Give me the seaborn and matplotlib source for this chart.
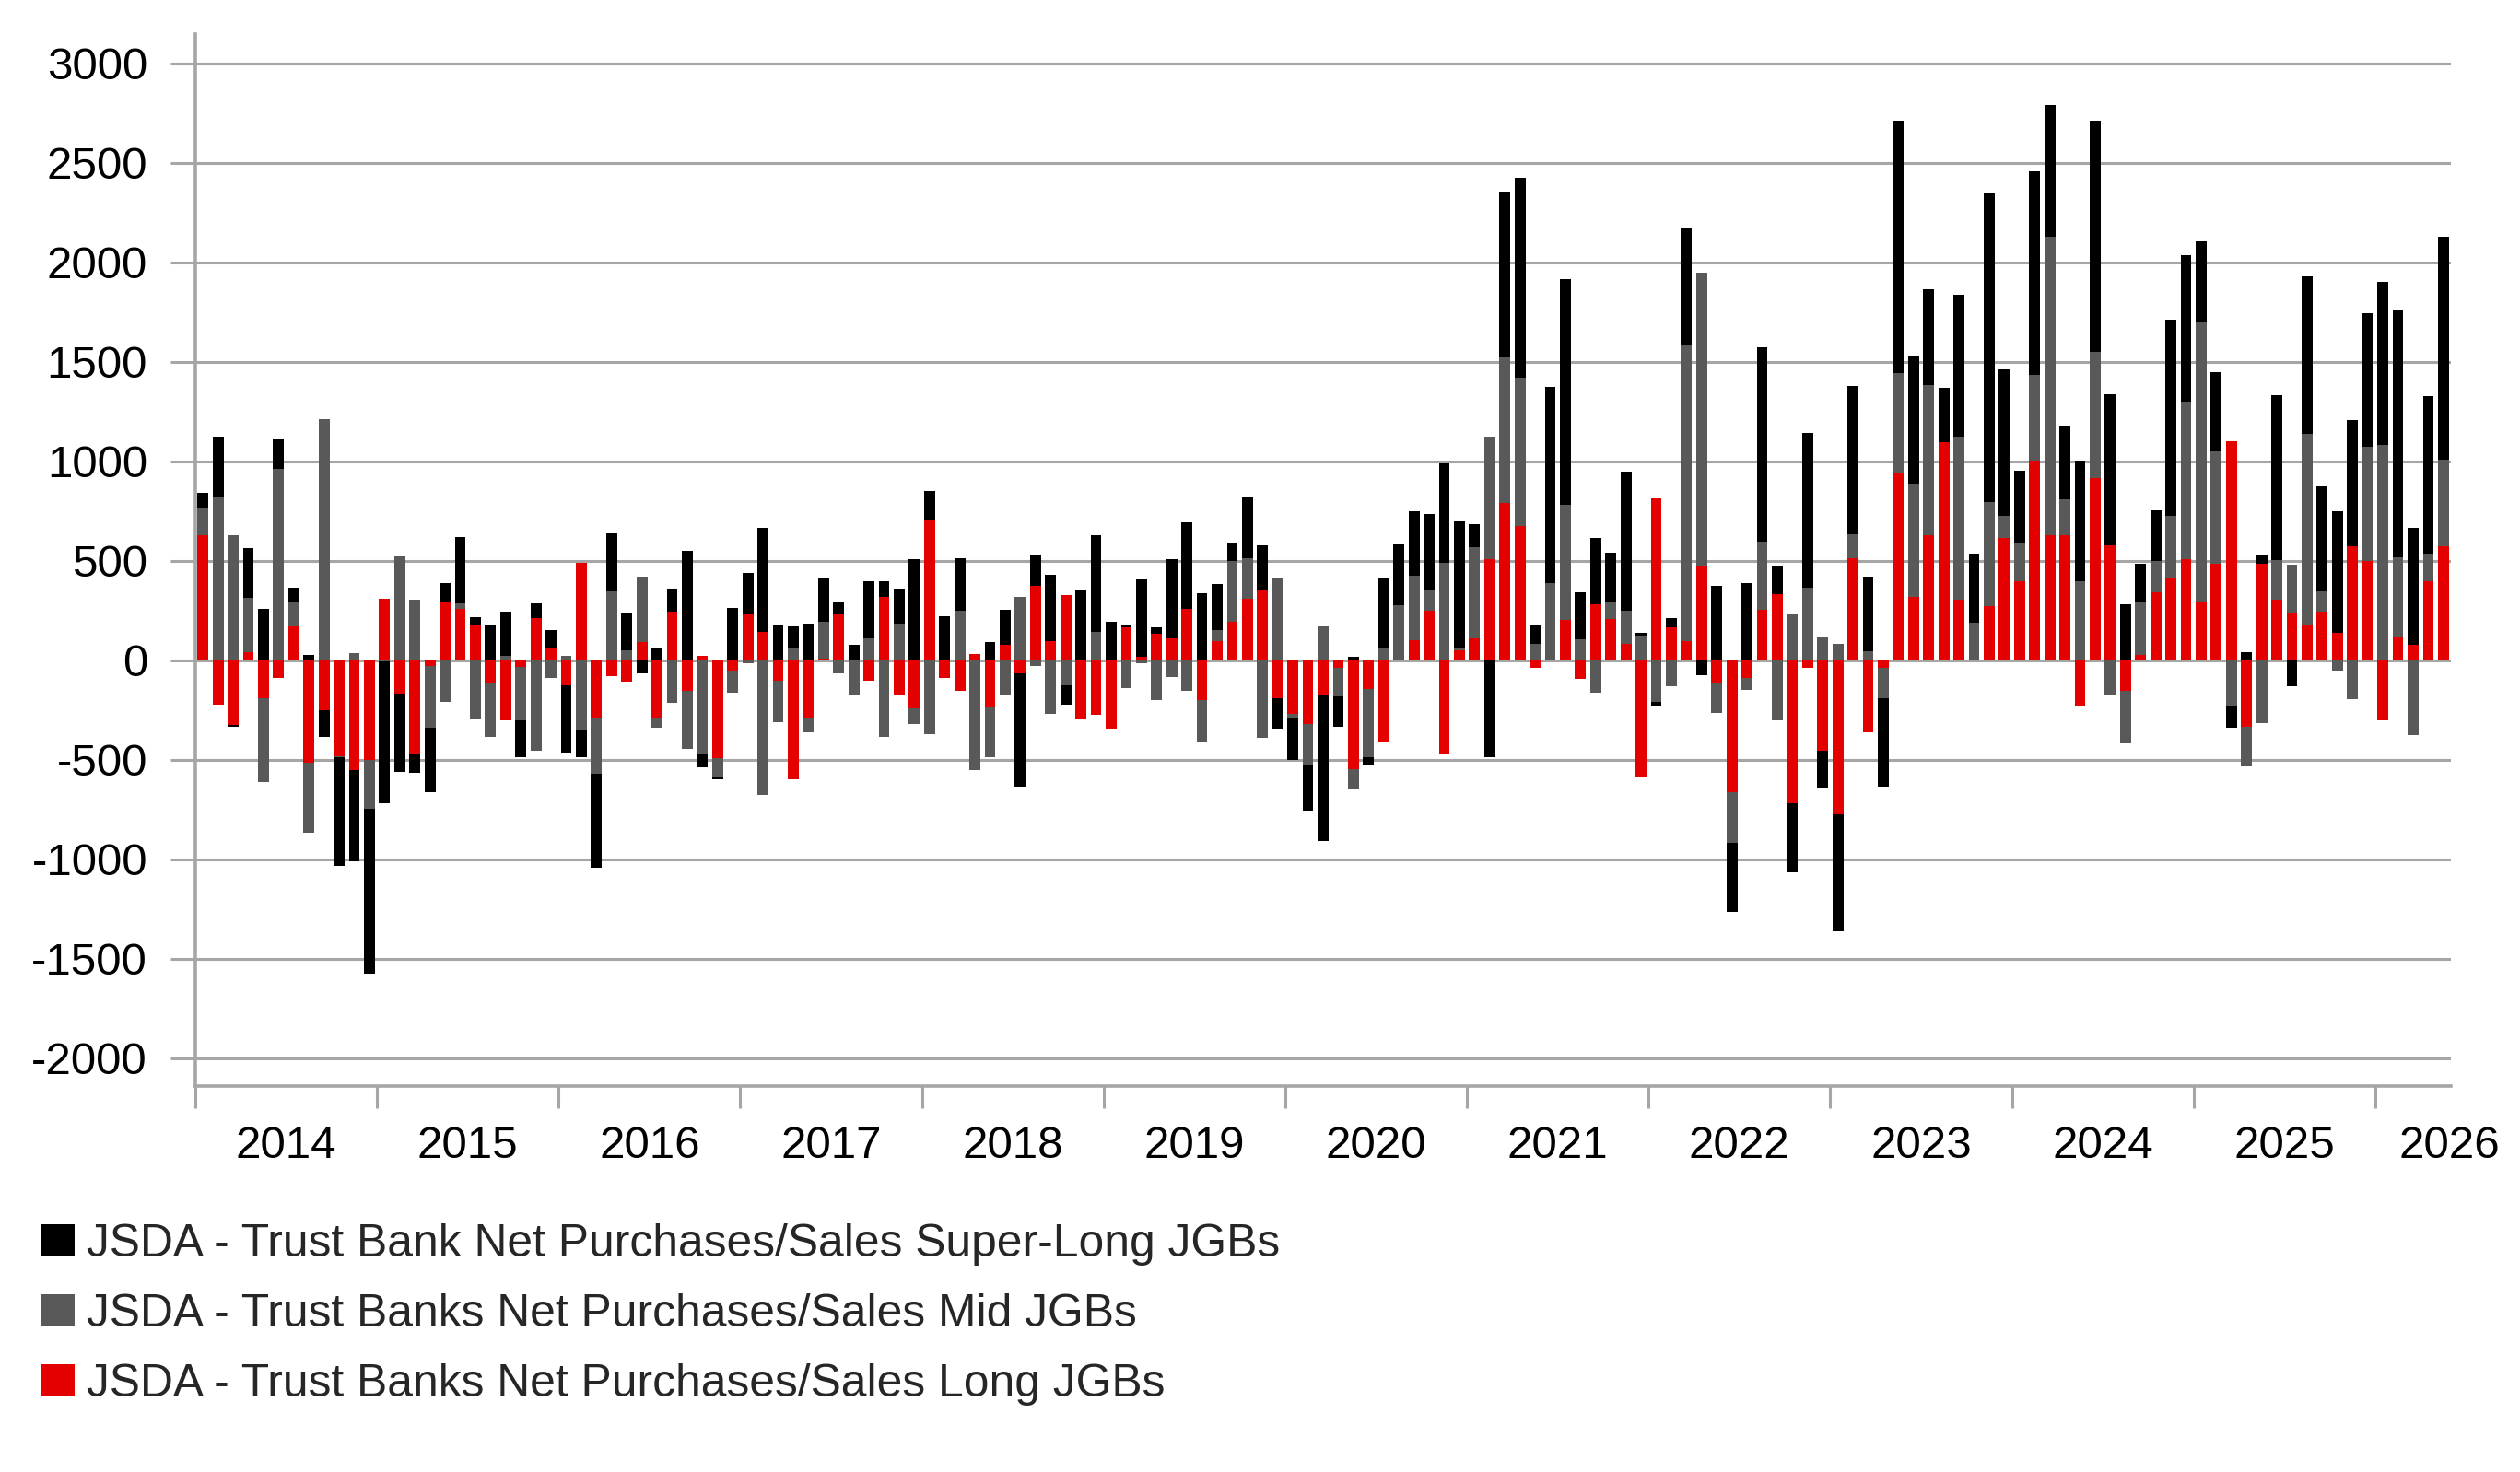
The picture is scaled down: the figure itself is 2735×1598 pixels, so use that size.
import numpy as np
import seaborn as sns
import matplotlib
matplotlib.use("Agg")
import matplotlib.pyplot as plt
from matplotlib.patches import Patch

# =========================
# DATA (monthly, Jan 2014 - May 2026, JPY bn)
# =========================

years = list(range(2014, 2027))

long_jgb = [
    630, -223, -323, 42, -190, -88, 170, -515, -253, -484, -553, -503,   # 2014
    307, -169, -468, -31, 296, 257, 173, -111, -303, -35, 211, 58,       # 2015
    -125, 489, -286, -78, -108, 91, -293, 243, -152, 24, -492, -50,      # 2016
    229, 142, -104, -600, -293, 10, 229, 5, -104, 317, -179, -243,       # 2017
    704, -91, -152, 30, -233, 78, -67, 374, 98, 330, -297, -276,         # 2018
    -344, 168, 17, 135, 111, 256, -202, 94, 195, 310, 357, -192,         # 2019
    -270, -320, -179, -40, -549, -145, -411, 5, 101, 249, -468, 51,      # 2020
    108, 509, 789, 674, -37, 5, 202, -94, 280, 209, 81, -586,            # 2021
    812, 168, 94, 475, -111, -661, -91, 253, 334, -718, -40, -455,       # 2022
    -772, 512, -364, -40, 940, 320, 627, 1095, 303, 5, 270, 613,         # 2023
    398, 1004, 627, 627, -226, 917, 580, -155, 27, 340, 418, 509,        # 2024
    297, 485, 1102, -334, 485, 303, 233, 179, 246, 138, 573, 499,        # 2025
    -304, 119, 77, 396, 573,                                             # 2026
]

mid_jgb = [
    135, 822, 630, 273, -420, 960, 127, -353, 1210, -5, 38, -242,
    -5, 522, 303, -307, -211, 27, -296, -276, 23, -265, -453, -88,
    20, -354, -283, 347, 50, 330, -47, -212, -293, -475, -94, -115,
    -17, -677, -209, 64, -67, 185, -64, -175, 108, -384, 182, -78,
    -371, 0, 249, -553, -253, -179, 317, -30, -270, -125, 0, 142,
    0, -138, -17, -202, -84, -155, -206, 57, 303, 202, -388, 411,
    -17, -202, 172, -142, -98, -340, 57, 273, 324, 104, 489, 13,
    462, 617, 735, 745, 81, 384, 580, 104, -165, 81, 168, 125,
    -209, -131, 1493, 1473, -155, -259, -57, 344, -303, 229, 367, 115,
    81, 121, 47, -152, 502, 566, 755, 0, 822, 185, 526, 115,
    189, 431, 1503, 182, 398, 634, -179, -263, 266, 158, 310, 789,
    1399, 566, -226, -199, -317, 202, 249, 957, 101, -51, -195, 576,
    1081, 400, -377, 142, 435,
]

super_long_jgb = [
    75, 300, -10, 250, 257, 150, 70, 27, -134, -545, -457, -829,
    -714, -392, -96, -323, 92, 334, 42, 173, 223, -188, 73, 96,
    -337, -135, -475, 290, 189, -67, 57, 118, 549, -61, -13, 263,
    209, 522, 179, 108, 182, 216, 64, 71, 290, 81, 179, 509,
    145, 219, 266, 0, 91, 175, -570, 155, 330, -98, 357, 485,
    192, 10, 388, 30, 398, 438, 337, 233, 91, 310, 222, -152,
    -212, -233, -728, -152, 17, -44, 361, 303, 324, 381, 499, 634,
    115, -485, 832, 1004, 94, 984, 1132, 236, 334, 253, 697, 13,
    -20, 44, 590, -74, 374, -344, 388, 974, 142, -347, 775, -185,
    -590, 748, 374, -441, 1270, 644, 485, 273, 714, 344, 1553, 735,
    367, 1021, 661, 371, 600, 1163, 758, 283, 192, 256, 984, 738,
    408, 398, -111, 40, 40, 826, -131, 795, 529, 610, 634, 671,
    819, 1238, 588, 792, 1123,
]

labels = [
    "JSDA - Trust Banks Net Purchases/Sales Long JGBs",
    "JSDA - Trust Banks Net Purchases/Sales Mid JGBs",
    "JSDA - Trust Bank Net Purchases/Sales Super-Long JGBs",
]
colors = ["#E50000", "#595959", "#000000"]

# =========================
# STYLE
# =========================

sns.set_theme(style="white")
plt.rcParams["font.family"] = ["Liberation Sans", "DejaVu Sans"]
plt.rcParams["axes.unicode_minus"] = False

grid_col = "#A6A6A6"

fig = plt.figure(figsize=(27.35, 15.98), dpi=100)
ax = fig.add_axes([0.0775, 0.2622, 0.8951, 0.7146])

# =========================
# STACKED BARS (pos / neg stacked separately, like Excel)
# =========================

n = len(long_jgb)
x = np.arange(n)
pos_base = np.zeros(n)
neg_base = np.zeros(n)
for vals, col, lab in zip([long_jgb, mid_jgb, super_long_jgb], colors, labels):
    v = np.asarray(vals, dtype=float)
    base = np.where(v >= 0, pos_base, neg_base)
    ax.bar(x, v, width=0.72, bottom=base, color=col, linewidth=0, label=lab)
    pos_base += np.clip(v, 0, None)
    neg_base += np.clip(v, None, 0)

# =========================
# AXES
# =========================

ax.set_xlim(-0.5, n - 0.5)
ax.set_ylim(-2140, 3147)
ax.set_yticks(range(-2000, 3001, 500))
ax.yaxis.grid(True, color=grid_col, linewidth=2.2)
ax.xaxis.grid(False)
ax.set_axisbelow(True)

# year boundaries as major ticks, year names centred as minor ticks
ax.set_xticks(np.arange(-0.5, n, 12))
ax.set_xticklabels([])
centres = [12 * i + 5.5 for i in range(len(years) - 1)] + [n - 0.6]
ax.set_xticks(centres, minor=True)
ax.set_xticklabels([str(y) for y in years], minor=True)

ax.tick_params(axis="y", left=True, length=19.5, width=2.2, color=grid_col,
               pad=18, labelsize=35.5, labelcolor="black")
ax.tick_params(axis="x", which="major", bottom=True, length=17, width=2.2,
               color=grid_col)
ax.tick_params(axis="x", which="minor", bottom=True, length=0, pad=31,
               labelsize=35.5, labelcolor="black")

sns.despine(ax=ax, top=True, right=True)
for side in ["left", "bottom"]:
    ax.spines[side].set_color(grid_col)
    ax.spines[side].set_linewidth(2.6)

# =========================
# LEGEND
# =========================

handles = [Patch(facecolor=c, edgecolor="none") for c in colors][::-1]
fig.legend(handles=handles, labels=labels[::-1], loc="upper left",
           bbox_to_anchor=(45 / 2735, 1 - 1328 / 1598), frameon=False,
           fontsize=35.8, handlelength=0.72, handleheight=0.72,
           handletextpad=0.27, labelspacing=0.6, borderpad=0,
           borderaxespad=0)

fig.savefig("out.png", dpi=100, facecolor="white")
